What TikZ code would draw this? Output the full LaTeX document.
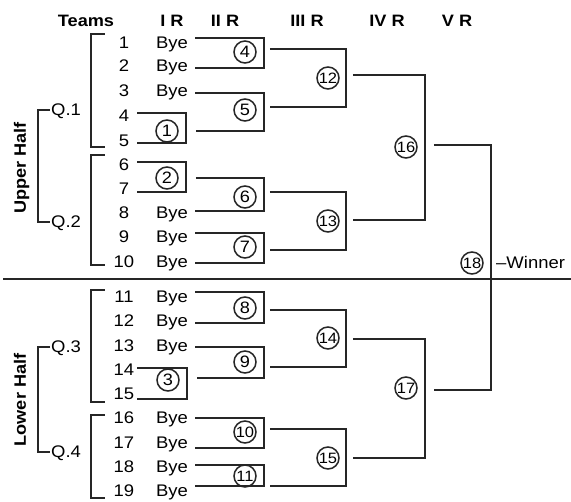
\documentclass[tikz,border=0pt]{standalone}
\usepackage{fontspec}
\setmainfont{Liberation Sans}[FakeStretch=1.1]
\usetikzlibrary{calc}
\definecolor{lc}{HTML}{262626}
\begin{document}
\begin{tikzpicture}[x=1pt,y=-1pt,
  ln/.style={draw=lc, line width=1.6pt},
  txt/.style={inner sep=0pt, text height=12pt, text depth=0pt, font=\fontsize{16.8}{17}\selectfont},
  team/.style={txt, minimum width=26pt},
  bye/.style={txt, minimum width=46pt},
  qq/.style={txt, anchor=west, inner xsep=1pt},
  hdr/.style={txt, font=\bfseries\fontsize{16.5}{17}\selectfont},
  side/.style={txt, rotate=90, font=\bfseries\fontsize{16.5}{17}\selectfont},
  rnd/.style={circle, draw=lc, line width=1.5pt, minimum size=22pt, inner sep=0pt, text height=11.5pt, text depth=0pt, font=\fontsize{16.5}{17}\selectfont},
  rndd/.style={rnd, font=\fontsize{15}{15}\selectfont, text height=10.6pt}]
\useasboundingbox (0,0) rectangle (571,502);
% headers
\node[hdr] (hT) at (86,21) {Teams};
\node[hdr] (h1) at (172,21) {I R};
\node[hdr] (h2) at (225,21) {II R};
\node[hdr] (h3) at (307,21) {III R};
\node[hdr] (h4) at (387,21) {IV R};
\node[hdr] (h5) at (457,21) {V R};
% teams
\foreach \n/\y in {1/42.5,2/66,3/91,4/116,5/141,6/165,7/189,8/213,9/237,10/262,
  11/297,12/321,13/346,14/370,15/394,16/418,17/443,18/467,19/491}
  \node[team] (t\n) at (124,\y) {\n};
\foreach \n in {1,2,3,8,9,10,11,12,13,16,17,18,19}
  \node[bye] (b\n) at ($(t\n)+(48,0)$) {Bye};
% quarters and halves
\node[qq] (q1) at (50,110) {Q.1};
\node[qq] (q2) at (50,222) {Q.2};
\node[qq] (q3) at (50,347) {Q.3};
\node[qq] (q4) at (50,452) {Q.4};
\node[side] (uh) at (20,168) {Upper Half};
\node[side] (lh) at (20,400) {Lower Half};
% round circles
\node[rnd] (c1) at (167,131) {1};
\node[rnd] (c2) at (167,178) {2};
\node[rnd] (c3) at (168,380) {3};
\node[rnd] (c4) at (245,52) {4};
\node[rnd] (c5) at (245,110) {5};
\node[rnd] (c6) at (245,197) {6};
\node[rnd] (c7) at (245,247) {7};
\node[rnd] (c8) at (245,308) {8};
\node[rnd] (c9) at (245,362) {9};
\node[rndd] (c10) at (245,432) {10};
\node[rndd] (c11) at (245,476) {11};
\node[rndd] (c12) at (328,78) {12};
\node[rndd] (c13) at (328,221) {13};
\node[rndd] (c14) at (328,338) {14};
\node[rndd] (c15) at (328,458) {15};
\node[rndd] (c16) at (406,147) {16};
\node[rndd] (c17) at (406,388) {17};
\node[rndd] (c18) at (472,263) {18};
\node[txt, anchor=west] (win) at (496,263) {–Winner};
% divider
\coordinate (dl) at (3,279);
\coordinate (dr) at (571,279);
\draw[draw=lc, line width=2pt] (dl) -- (dr);
% left brackets
\draw[ln] ([xshift=-6pt,yshift=8.5pt]t1.west) -- ++(-14,0) |- ([xshift=-6pt,yshift=-6pt]t5.west);
\draw[ln] ([xshift=-6pt,yshift=10pt]t6.west) -- ++(-14,0) |- ([xshift=-6pt,yshift=-3pt]t10.west);
\draw[ln] ([xshift=-6pt,yshift=7pt]t11.west) -- ++(-14,0) |- ([xshift=-6pt,yshift=-8pt]t15.west);
\draw[ln] ([xshift=-6pt,yshift=3pt]t16.west) -- ++(-14,0) |- ([xshift=-6pt,yshift=-7pt]t19.west);
\draw[ln] (q1.west) -- ++(-12,0) |- (q2.west);
\draw[ln] (q3.west) -- ++(-12,0) |- (q4.west);
% round I
\draw[ln] ([yshift=3pt]t4.east) -| ([xshift=7pt]c1.east) |- ([yshift=-2pt]t5.east);
\draw[ln] ([yshift=3pt]t6.east) -| ([xshift=7pt]c2.east) |- ([yshift=-3pt]t7.east);
\draw[ln] ([yshift=2pt]t14.east) -| ([xshift=7pt]c3.east) |- ([yshift=-5pt]t15.east);
% round II
\draw[ln] ([yshift=4.5pt]b1.east) -| ([xshift=7pt]c4.east) |- ([yshift=-2pt]b2.east);
\draw[ln] ([yshift=-2pt]b3.east) -| ([xshift=7pt]c5.east) |- ([xshift=17pt]c1.east);
\draw[ln] ([xshift=17pt]c2.east) -| ([xshift=7pt]c6.east) |- ([yshift=2pt]b8.east);
\draw[ln] ([yshift=4pt]b9.east) -| ([xshift=7pt]c7.east) |- ([yshift=-1pt]b10.east);
\draw[ln] ([yshift=5pt]b11.east) -| ([xshift=7pt]c8.east) |- ([yshift=-2pt]b12.east);
\draw[ln] ([yshift=-1pt]b13.east) -| ([xshift=7pt]c9.east) |- ([xshift=17pt,yshift=2pt]c3.east);
\draw[ln] (b16.east) -| ([xshift=7pt]c10.east) |- ([yshift=-5pt]b17.east);
\draw[ln] ([yshift=2pt]b18.east) -| ([xshift=7pt]c11.east) |- ([yshift=5pt]b19.east);
% round III
\draw[ln] ([xshift=13pt,yshift=3pt]c4.east) -| ([xshift=6pt]c12.east) |- ([xshift=13pt,yshift=3pt]c5.east);
\draw[ln] ([xshift=13pt,yshift=5pt]c6.east) -| ([xshift=6pt]c13.east) |- ([xshift=13pt,yshift=-3pt]c7.east);
\draw[ln] ([xshift=13pt,yshift=-2pt]c8.east) -| ([xshift=6pt]c14.east) |- ([xshift=13pt,yshift=-5pt]c9.east);
\draw[ln] ([xshift=13pt,yshift=3pt]c10.east) -| ([xshift=6pt]c15.east) |- ([xshift=13pt,yshift=-10pt]c11.east);
% round IV
\draw[ln] ([xshift=13pt,yshift=3pt]c12.east) -| ([xshift=7pt]c16.east) |- ([xshift=13pt,yshift=1pt]c13.east);
\draw[ln] ([xshift=13pt,yshift=-1pt]c14.east) -| ([xshift=7pt]c17.east) |- ([xshift=13pt]c15.east);
% round V
\draw[ln] ([xshift=16pt,yshift=2pt]c16.east) -| ([xshift=7pt]c18.east) |- ([xshift=16pt,yshift=-2pt]c17.east);
\end{tikzpicture}
\end{document}
